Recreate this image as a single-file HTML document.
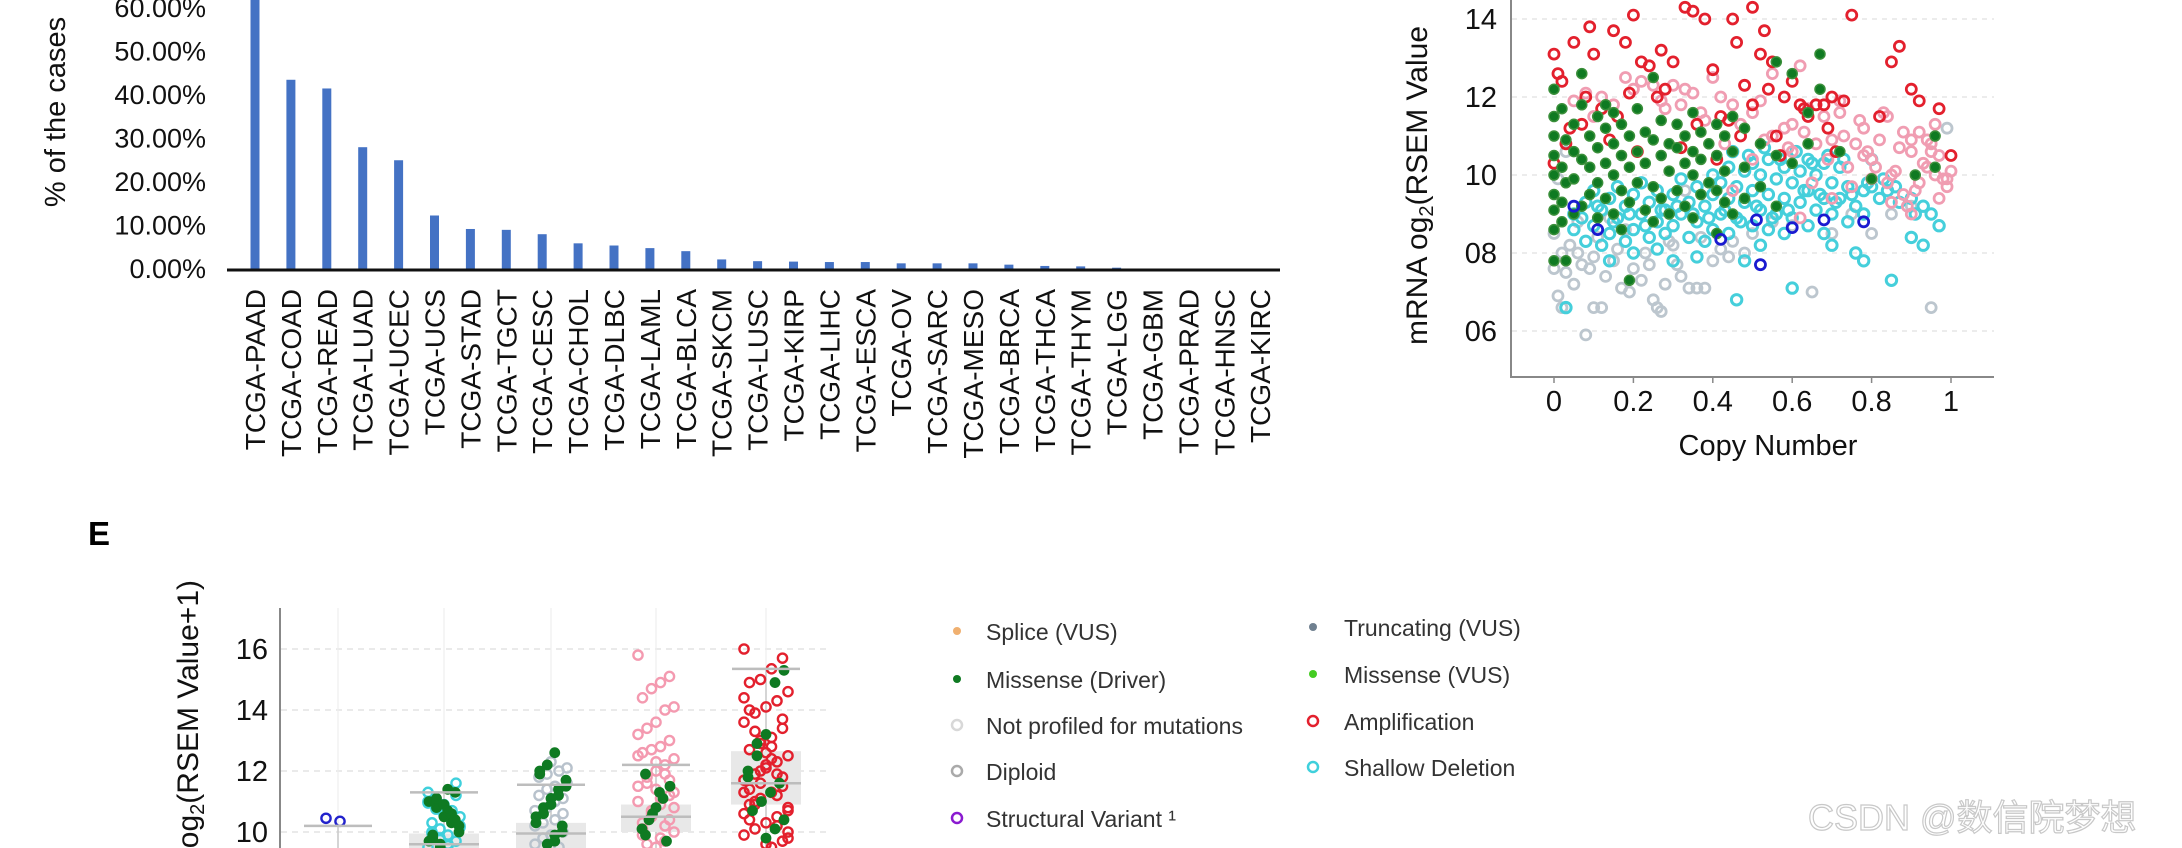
<!DOCTYPE html>
<html><head><meta charset="utf-8"><style>
html,body{margin:0;padding:0;background:#fff;width:2182px;height:848px;overflow:hidden}
svg{display:block;font-family:"Liberation Sans",Arial,sans-serif}
</style></head><body>
<svg id="s" width="2182" height="848" viewBox="0 0 2182 848" xmlns="http://www.w3.org/2000/svg">
<g id="barChart"></g>
<g id="scatter"></g>
<g id="strip"></g>
<text x="88" y="545" font-size="33" font-weight="bold">E</text>
<g id="legend"></g>
<text x="1808" y="830" font-size="36" fill="#fff" stroke="#c8c8c8" stroke-width="1.2" font-family="'Liberation Sans','Noto Sans CJK SC',sans-serif">CSDN @数信院梦想</text>
</svg>
<script>
// ---------- bar chart data ----------
const barCats=["TCGA-PAAD","TCGA-COAD","TCGA-READ","TCGA-LUAD","TCGA-UCEC","TCGA-UCS","TCGA-STAD","TCGA-TGCT","TCGA-CESC","TCGA-CHOL","TCGA-DLBC","TCGA-LAML","TCGA-BLCA","TCGA-SKCM","TCGA-LUSC","TCGA-KIRP","TCGA-LIHC","TCGA-ESCA","TCGA-OV","TCGA-SARC","TCGA-MESO","TCGA-BRCA","TCGA-THCA","TCGA-THYM","TCGA-LGG","TCGA-GBM","TCGA-PRAD","TCGA-HNSC","TCGA-KIRC"];
const barVals=[70,43.5,41.5,28,25,12.3,9.2,9,8,5.9,5.4,4.8,4.1,2.2,1.8,1.7,1.6,1.6,1.3,1.3,1.3,1.0,0.7,0.6,0.3,0,0,0,0];
const barTicks=[0,10,20,30,40,50,60];

// ---------- scatter data ----------
const dipX=[0.0,0.01,0.02,0.03,0.05,0.07,0.08,0.09,0.1,0.12,0.13,0.15,0.17,0.19,0.2,0.22,0.24,0.25,0.26,0.27,0.28,0.3,0.32,0.34,0.36,0.38,0.4,0.42,0.45,0.48,0.5,0.55,0.6,0.65,0.7,0.75,0.8,0.85,0.9,0.95,0.99,0.0,0.02,0.04,0.06,0.11,0.14,0.18,0.29,0.33,0.01,0.03,0.06,0.1,0.16,0.23,0.31,0.37,0.44];
const dipY=[7.6,6.9,6.6,7.5,7.2,7.7,5.9,7.6,6.6,6.6,7.4,7.8,7.1,7.0,7.6,7.3,7.7,6.8,6.6,6.5,7.2,8.2,7.4,7.1,7.1,7.1,7.8,8.1,8.3,8.0,8.5,8.8,8.7,7.0,8.5,9.0,8.5,9.0,9.2,6.6,11.2,8.5,8.0,8.2,8.8,8.4,8.9,8.6,8.3,9.6,9.9,10.6,8.0,7.9,8.1,8.0,7.7,8.4,7.9];
const gainX=[0.3,0.32,0.35,0.38,0.4,0.42,0.45,0.48,0.5,0.52,0.55,0.58,0.6,0.62,0.64,0.66,0.68,0.7,0.72,0.74,0.76,0.78,0.8,0.82,0.84,0.86,0.88,0.9,0.92,0.94,0.96,0.98,1.0,0.75,0.8,0.85,0.9,0.95,0.7,0.65,0.6,0.55,0.5,0.45,0.85,0.9,0.95,0.99,0.78,0.88,0.93,0.97,0.72,0.83,0.62,0.2,0.25,0.15,0.1,0.05,0.12,0.22,0.28,0.81,0.87,0.91,0.94,0.97,0.77,0.73,0.69,0.63,0.59,0.53,0.47,0.43,0.37,0.33,0.27,0.18,0.08,0.84,0.89,0.96,0.99,0.92,0.79];
const gainY=[12.3,11.8,12.1,11.4,12.5,12.0,11.8,12.3,11.6,11.9,12.6,11.2,11.3,12.8,11.7,10.8,11.5,10.9,11.6,10.2,10.8,11.2,10.4,10.9,11.5,10.1,11.1,10.6,9.8,10.2,11.3,9.9,10.1,9.7,9.9,9.3,9.0,10.8,9.4,9.8,10.6,11.0,10.4,9.6,10.0,10.9,10.6,9.7,10.5,9.5,10.3,9.4,11.9,11.6,8.9,12.2,12.3,11.8,11.5,11.9,12.0,12.4,11.7,10.2,10.7,9.6,10.9,10.5,11.4,11.0,10.4,11.1,10.7,10.9,11.3,10.8,11.6,12.2,11.9,12.5,12.1,9.8,9.2,10.0,9.9,11.1,10.6];
const shalX=[0.05,0.05,0.08,0.08,0.1,0.1,0.12,0.12,0.14,0.14,0.14,0.16,0.16,0.18,0.18,0.2,0.2,0.2,0.22,0.22,0.24,0.24,0.26,0.26,0.26,0.28,0.28,0.3,0.3,0.3,0.32,0.32,0.34,0.34,0.36,0.36,0.36,0.38,0.38,0.4,0.4,0.4,0.42,0.42,0.44,0.44,0.44,0.46,0.46,0.46,0.48,0.48,0.48,0.5,0.5,0.5,0.52,0.52,0.52,0.54,0.54,0.54,0.56,0.56,0.58,0.58,0.58,0.6,0.6,0.6,0.62,0.62,0.64,0.64,0.64,0.66,0.66,0.68,0.68,0.68,0.7,0.7,0.7,0.72,0.72,0.74,0.74,0.76,0.76,0.78,0.78,0.78,0.8,0.8,0.82,0.84,0.86,0.9,0.9,0.93,0.93,0.95,0.97,0.03,0.85,0.07,0.11,0.15,0.19,0.23,0.27,0.31,0.35,0.39,0.43,0.47,0.51,0.55,0.59,0.63,0.67,0.71,0.75,0.79,0.83,0.87,0.91,0.45,0.49,0.53,0.57,0.61,0.65,0.69,0.73];
const shalY=[9.0,8.6,9.3,8.3,8.7,9.6,8.2,9.1,8.5,9.4,7.8,8.9,9.7,8.3,9.2,8.6,9.5,8.0,9.0,9.8,8.4,9.3,8.8,9.6,8.1,9.1,8.5,8.7,9.5,7.8,9.0,9.9,8.4,9.3,8.8,9.7,7.9,9.2,8.3,8.6,9.5,10.0,9.0,9.8,8.5,9.4,10.2,8.9,9.7,6.8,9.3,10.1,7.8,8.7,9.6,10.3,9.1,10.0,8.2,8.6,9.5,10.4,9.0,9.9,8.5,9.4,10.2,8.9,9.8,7.1,9.3,10.1,8.7,9.6,10.4,9.1,10.0,8.5,9.4,10.3,9.0,9.8,8.2,9.4,10.2,8.8,9.7,9.2,8.0,9.6,9.0,7.8,9.7,10.4,9.4,9.6,9.7,8.4,9.4,8.2,9.2,9.0,8.7,6.6,7.3,8.9,9.2,8.8,9.0,8.7,9.1,9.2,9.0,8.9,9.1,8.8,9.2,8.9,9.1,9.6,9.5,9.3,9.5,9.8,9.9,9.3,9.0,10.6,10.5,10.7,10.4,10.6,10.3,10.5,10.4];
const ampX=[0.0,0.01,0.02,0.05,0.09,0.1,0.15,0.18,0.2,0.22,0.24,0.26,0.27,0.3,0.33,0.35,0.38,0.4,0.42,0.45,0.46,0.48,0.5,0.5,0.52,0.53,0.55,0.56,0.58,0.6,0.62,0.64,0.66,0.68,0.7,0.73,0.75,0.82,0.85,0.87,0.9,0.92,0.97,1.0,0.04,0.08,0.12,0.16,0.28,0.36,0.44,0.54,0.63,0.69,0.71,0.0,0.03,0.07,0.14,0.21,0.32,0.41,0.47,0.57,0.19];
const ampY=[13.1,12.6,12.4,13.4,13.8,13.1,13.7,13.4,14.1,12.9,12.8,12.0,13.2,12.9,14.3,14.2,14.0,12.7,11.5,14.0,13.4,12.3,14.3,11.8,13.1,13.7,12.9,11.0,12.0,12.4,11.8,11.5,11.8,11.8,12.0,11.9,14.1,11.5,12.9,13.3,12.2,11.9,11.7,10.5,11.2,12.0,11.7,11.5,12.2,11.3,11.4,12.2,11.7,11.2,10.6,10.3,10.8,11.3,10.9,10.6,10.7,10.4,11.0,10.5,12.1];
const misX=[0,0,0,0,0,0,0,0,0,0.02,0.02,0.02,0.02,0.03,0.03,0.03,0.05,0.05,0.05,0.05,0.07,0.07,0.07,0.07,0.09,0.09,0.09,0.11,0.11,0.11,0.11,0.13,0.13,0.13,0.13,0.15,0.15,0.15,0.15,0.17,0.17,0.17,0.17,0.19,0.19,0.19,0.19,0.21,0.21,0.21,0.23,0.23,0.23,0.25,0.25,0.25,0.25,0.27,0.27,0.27,0.29,0.29,0.29,0.31,0.31,0.31,0.33,0.33,0.33,0.35,0.35,0.35,0.35,0.37,0.37,0.37,0.39,0.39,0.41,0.41,0.41,0.41,0.43,0.43,0.43,0.45,0.45,0.45,0.48,0.48,0.48,0.52,0.52,0.56,0.56,0.56,0.6,0.6,0.64,0.64,0.67,0.67,0.72,0.8,0.91,0.96,0.96];
const misY=[8.6,9.1,9.5,10.0,10.5,11.0,11.5,12.2,7.8,9.3,10.2,11.7,8.8,7.8,9.8,10.9,9.0,9.9,10.6,11.3,9.2,10.4,11.8,12.6,9.5,10.2,11.0,8.9,9.8,10.7,11.5,9.4,10.3,11.2,11.8,9.0,10.0,10.8,11.6,8.6,9.6,10.5,11.3,7.3,9.3,10.2,11.0,9.8,10.6,11.7,9.1,10.3,11.1,8.8,9.7,10.9,12.5,9.4,10.5,11.4,9.0,10.1,10.8,9.6,10.7,11.3,9.2,10.3,11.0,8.9,10.0,10.6,11.6,9.5,10.4,11.1,9.8,10.8,8.5,9.6,10.5,11.3,9.3,10.1,11.0,9.0,10.6,11.5,9.4,10.2,11.2,9.7,10.8,9.2,10.5,12.9,10.3,12.6,10.8,11.6,13.1,12.2,10.6,9.9,10.0,10.2,11.0];
const svX=[0.05,0.11,0.42,0.51,0.52,0.6,0.68,0.78];
const svY=[9.2,8.6,8.35,8.85,7.7,8.65,8.85,8.8];
const scXTicks=[0,0.2,0.4,0.6,0.8,1];
const scYTicks=[6,8,10,12,14];
const scYTickLabels=["06","08","10","12","14"];

// ---------- strip chart data ----------
const stripTicks=[10,12,14,16];
const boxTop=[10.2,11.3,11.55,12.2,15.35];
const boxQ3=[null,9.95,10.3,10.9,12.65];
const boxMed=[null,9.6,9.95,10.5,11.6];
const boxQ1=[null,9.0,9.4,10.0,10.9];
const sv1=[10.45,10.35];
const shal2=[9.5,9.7,9.9,10.1,10.3,10.5,10.7,10.9,11.1,11.3,11.6,9.6,9.8,10.0,10.2,10.4,10.6,10.8,11.0,11.2,9.55,9.75,9.95,10.15,10.35,10.55,10.75,10.95];
const mis2=[9.5,9.8,10.0,10.3,10.5,10.8,11.0,11.3,11.4,9.6,9.9,10.2,10.6,10.9,11.1,9.7,10.4,10.7];
const dip3=[9.6,10.0,10.4,10.8,11.2,11.6,12.0,12.3,9.8,10.2,10.6,11.0,11.4,11.8,12.1,9.5,9.9,10.3,10.7,11.1,11.5,11.9];
const mis3=[12.6,12.2,12.0,11.7,11.4,11.1,10.8,10.5,10.2,9.9,9.6,11.9,11.5,11.2,10.9,10.6,10.3,10.0,9.7];
const gain4=[15.8,15.1,14.9,14.7,14.4,14.1,14.0,13.6,13.4,13.2,13.0,12.8,12.7,12.6,12.4,12.2,12.0,11.8,11.5,11.2,10.9,10.6,10.3,10.0,9.7,9.5,11.6,11.0,10.4,9.8,10.7,10.1,11.3,11.9,12.3,9.6,12.5,11.7,11.1,10.5,9.9,10.8,10.2,11.4];
const mis4=[11.9,11.5,11.1,10.8,10.4,10.1,9.7,11.3,10.6,9.9];
const amp5=[16.0,15.7,15.35,15.0,14.9,14.6,14.3,14.1,13.9,13.6,13.4,13.1,12.9,12.7,12.5,12.3,12.1,11.9,11.7,11.5,11.3,11.1,10.9,10.7,10.5,10.3,10.1,9.9,9.7,9.5,12.0,11.4,10.8,10.2,9.6,11.0,10.6,11.8,12.4,13.0,14.0,10.0,11.2,12.2,13.3,14.4,13.7,12.8,11.6,10.4,9.8,11.9,12.6,10.9,11.3];
const mis5=[15.3,14.9,13.2,12.9,12.0,11.6,11.3,11.0,10.7,10.4,10.1,9.8,12.5,11.8];

const NS="http://www.w3.org/2000/svg";
function mk(parent,tag,attrs){const e=document.createElementNS(NS,tag);for(const k in attrs)e.setAttribute(k,attrs[k]);parent.appendChild(e);return e;}

// ===== bar chart =====
(function(){
const g=document.getElementById('barChart');
const y0=269, pxPer=4.35, x0=255, step=35.9;
const yS=v=>y0-v*pxPer, xS=i=>x0+i*step;
barTicks.forEach(t=>{
  const tx=mk(g,'text',{x:206,y:yS(t)+9,'font-size':27,'text-anchor':'end',fill:'#111'});
  
  
  tx.textContent=t.toFixed(2)+'%';
});
barVals.forEach((v,i)=>{
  const r=mk(g,'rect',{x:xS(i)-4.5,y:yS(v),width:9,height:Math.max(0,v*pxPer),fill:'#4472c4'});
  
  
  const tx=mk(g,'text',{x:0,y:0,'font-size':28,'text-anchor':'end',fill:'#111',transform:`translate(${xS(i)+10},${289}) rotate(-90)`});
  
  
  tx.textContent=barCats[i];
});
const ax=mk(g,'line',{x1:227,x2:1280,y1:y0+1,y2:y0+1,stroke:'#111','stroke-width':3});


const t=mk(g,'text',{x:0,y:0,'font-size':29,'text-anchor':'middle',fill:'#111',transform:'translate(65,112) rotate(-90)'});


t.textContent='% of the cases';
})();

// ===== scatter =====
(function(){
const g=document.getElementById('scatter');
const xS=v=>1554+v*397, yS=v=>175-(v-10)*39;
scYTicks.forEach((t,i)=>{
  mk(g,'line',{x1:1512,x2:1994,y1:yS(t),y2:yS(t),stroke:'#e6e6e6','stroke-width':1.5,'stroke-dasharray':'5,5'});
  const tx=mk(g,'text',{x:1497,y:yS(t)+10,'font-size':29,'text-anchor':'end',fill:'#111'});
  
  
  tx.textContent=scYTickLabels[i];
});
scXTicks.forEach(t=>{
  mk(g,'line',{x1:xS(t),x2:xS(t),y1:377,y2:383,stroke:'#888','stroke-width':1.5});
  const tx=mk(g,'text',{x:xS(t),y:411,'font-size':29,'text-anchor':'middle',fill:'#111'});
  
  
  tx.textContent=String(t);
});
function pts(xs,ys,fill,stroke,sw,r,name){
  xs.forEach((x,i)=>{
    if(ys[i]===undefined) return;
    const c=mk(g,'circle',{cx:xS(x),cy:yS(ys[i]),r:r,fill:fill,stroke:stroke,'stroke-width':sw});
    
    
  });
}
pts(dipX,dipY,'none','#bcc6ce',2.8,5,'diploid-point');
pts(shalX,shalY,'none','#45cfdb',3,5.2,'shallow-deletion-point');
pts(gainX,gainY,'none','#f09db2',2.8,5,'gain-point');
pts(ampX,ampY,'none','#e3202d',2.8,5,'amplification-point');
pts(misX,misY,'#0f7a22','#3a8f3a',1.5,5,'missense-driver-point');
pts(svX,svY,'none','#1a1ad0',2.8,5,'structural-variant-point');
const yl=mk(g,'line',{x1:1511,x2:1511,y1:0,y2:378,stroke:'#888','stroke-width':2});


const xl=mk(g,'line',{x1:1510,x2:1994,y1:377,y2:377,stroke:'#888','stroke-width':2});


const xt=mk(g,'text',{x:1768,y:455,'font-size':29,'text-anchor':'middle',fill:'#111'});


xt.textContent='Copy Number';
const yt=mk(g,'text',{x:0,y:0,'font-size':30,fill:'#111',transform:'translate(1427,345) rotate(-90)'});


yt.innerHTML='mRNA og<tspan font-size="20" dy="6">2</tspan><tspan dy="-6">(RSEM Value</tspan>';
})();

// ===== strip chart =====
(function(){
const g=document.getElementById('strip');
const catX=[338,444,551,656,766];
const yS=v=>832-(v-10)*30.5;
stripTicks.forEach(t=>{
  mk(g,'line',{x1:281,x2:826,y1:yS(t),y2:yS(t),stroke:'#e4e4e4','stroke-width':1.5,'stroke-dasharray':'6,5'});
  const tx=mk(g,'text',{x:268,y:yS(t)+10,'font-size':29,'text-anchor':'end',fill:'#111'});
  
  
  tx.textContent=String(t);
});
catX.forEach(x=>mk(g,'line',{x1:x,x2:x,y1:608,y2:848,stroke:'#eeeeee','stroke-width':1.2}));
catX.forEach((x,i)=>{
  mk(g,'line',{x1:x,x2:x,y1:yS(boxTop[i]),y2:848,stroke:'#c8c8c8','stroke-width':1.5});
  if(boxQ3[i]!==null){
    const b=mk(g,'rect',{x:x-35,y:yS(boxQ3[i]),width:70,height:yS(boxQ1[i])-yS(boxQ3[i]),fill:'#e8e8e8'});
    
    
  }
});
function strip(c,vals,fill,stroke,w,name,seed){
  vals.forEach((v,k)=>{
    const off=c===0?(k===0?-12:2):((((k+seed)*7)%9)-4)/4*w;
    const m=mk(g,'circle',{cx:catX[c]+off,cy:yS(v),r:fill==='none'?4.6:4.2,fill:fill,stroke:stroke,'stroke-width':2.4});
    
    
  });
}
strip(0,sv1,'none','#2222cc',0,'structural-variant-point',0);
strip(1,shal2,'none','#3fd0dc',16,'shallow-deletion-point',0);
strip(1,mis2,'#0f7a22','#0f7a22',15,'missense-driver-point',3);
strip(2,dip3,'none','#b8c2cc',16,'diploid-point',0);
strip(2,mis3,'#0f7a22','#0f7a22',15,'missense-driver-point',2);
strip(3,gain4,'none','#f49ab0',18,'gain-point',0);
strip(3,mis4,'#0f7a22','#0f7a22',14,'missense-driver-point',4);
strip(4,amp5,'none','#e3202d',22,'amplification-point',0);
strip(4,mis5,'#0f7a22','#0f7a22',18,'missense-driver-point',5);
catX.forEach((x,i)=>{
  mk(g,'line',{x1:x-34,x2:x+34,y1:yS(boxTop[i]),y2:yS(boxTop[i]),stroke:'#bdbdbd','stroke-width':2.5});
  if(boxMed[i]!==null) mk(g,'line',{x1:x-35,x2:x+35,y1:yS(boxMed[i]),y2:yS(boxMed[i]),stroke:'#bdbdbd','stroke-width':2.5});
});
const yl=mk(g,'line',{x1:280,x2:280,y1:608,y2:848,stroke:'#888','stroke-width':2});


const yt=mk(g,'text',{x:0,y:0,'font-size':30,'text-anchor':'end',fill:'#111',transform:'translate(198,580) rotate(-90)'});


yt.innerHTML='mRNA log<tspan font-size="20" dy="6">2</tspan><tspan dy="-6">(RSEM Value+1)</tspan>';
})();

// ===== legend =====
const legLabels=["Splice (VUS)","Missense (Driver)","Not profiled for mutations","Diploid","Structural Variant \u00b9","Truncating (VUS)","Missense (VUS)","Amplification","Shallow Deletion"];
const legFill=["#f0b070","#0f7a22","none","none","none","#708090","#44cc22","none","none"];
const legStroke=["none","none","#d8d8d8","#aaaaaa","#8a1ad0","none","none","#e3202d","#3fd0dc"];
(function(){
const g=document.getElementById('legend');
const pos=[[957,986,633],[957,986,681],[957,986,727],[957,986,773],[957,986,820],[1313,1344,629],[1313,1344,676],[1313,1344,723],[1313,1344,769]];
legLabels.forEach((l,i)=>{
  const [mx,tx,y]=pos[i];
  const filled=legFill[i]!=='none';
  const c=mk(g,'circle',{cx:mx,cy:y-2,r:filled?4:5,fill:legFill[i],stroke:legStroke[i],'stroke-width':2.5});
  
  
  const t=mk(g,'text',{x:tx,y:y+7,'font-size':23,fill:'#333'});
  
  
  t.textContent=l;
});
})();
</script>
</body></html>
